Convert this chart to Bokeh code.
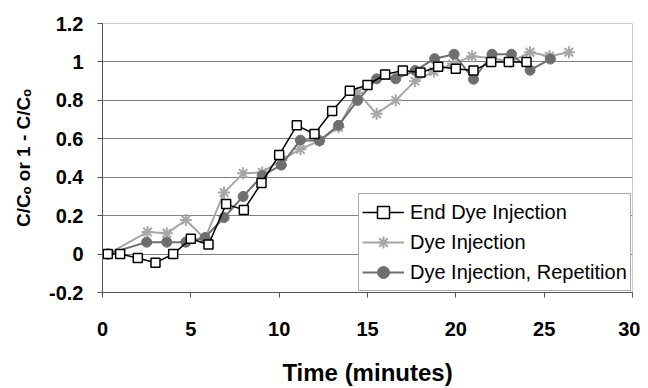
from bokeh.plotting import figure
from bokeh.models import Range1d, FixedTicker, CustomJSTickFormatter, Legend, LegendItem
from bokeh.embed import file_html
from bokeh.resources import INLINE

# ---- data ----
end_t = [0.3, 1, 2, 3, 4, 5, 6, 7, 8, 9, 10, 11, 12, 13, 14, 15, 16, 17, 18, 19, 20, 21, 22, 23, 24]
end_v = [0, 0, -0.02, -0.045, 0, 0.08, 0.05, 0.26, 0.23, 0.37, 0.515, 0.67, 0.625, 0.745, 0.85,
         0.88, 0.935, 0.955, 0.945, 0.975, 0.965, 0.955, 1.0, 1.0, 1.0]

dye_t = [0.3, 2.55, 3.64, 4.72, 5.8, 6.88, 7.96, 9.04, 10.12, 11.2, 12.28, 13.36, 14.44, 15.52,
         16.6, 17.68, 18.76, 19.84, 20.92, 22.0, 23.08, 24.2, 25.3, 26.4]
dye_v = [0, 0.115, 0.108, 0.177, 0.08, 0.32, 0.42, 0.425, 0.49, 0.545, 0.59, 0.66, 0.84, 0.73,
         0.80, 0.90, 0.95, 0.99, 1.03, 1.02, 1.0, 1.05, 1.03, 1.05]

rep_t = [0.3, 2.5, 3.64, 4.72, 5.8, 6.88, 7.96, 9.04, 10.12, 11.2, 12.28, 13.36, 14.44, 15.52,
         16.6, 17.7, 18.8, 19.9, 21.0, 22.05, 23.15, 24.2, 25.35]
rep_v = [0, 0.062, 0.062, 0.062, 0.086, 0.19, 0.30, 0.408, 0.463, 0.593, 0.59, 0.67, 0.80, 0.912,
         0.912, 0.955, 1.017, 1.04, 0.91, 1.04, 1.04, 0.957, 1.015]

x_ticks = [0, 5, 10, 15, 20, 25, 30]
y_ticks = [-0.2, 0, 0.2, 0.4, 0.6, 0.8, 1.0, 1.2]
series_names = ["End Dye Injection", "Dye Injection", "Dye Injection, Repetition"]

FONT = "Liberation Sans"

p = figure(width=640, height=388, output_backend="svg", toolbar_location=None,
           x_range=Range1d(0, 30), y_range=Range1d(-0.2, 1.2),
           min_border_left=102, min_border_right=8, min_border_top=23, min_border_bottom=93)
p.background_fill_color = "white"
p.border_fill_color = "white"
p.outline_line_color = "#cccccc"
p.outline_line_width = 1

# axes
p.xaxis.ticker = FixedTicker(ticks=x_ticks)
p.yaxis.ticker = FixedTicker(ticks=y_ticks)
p.yaxis.formatter = CustomJSTickFormatter(code="return tick.toFixed(1).replace(/\\.0$/, '');")
for ax in (p.xaxis, p.yaxis):
    ax.axis_line_color = "#555555"
    ax.axis_line_width = 1
    ax.major_tick_line_color = "#555555"
    ax.major_tick_out = 5
    ax.major_tick_in = 0
    ax.minor_tick_line_color = None
    ax.major_label_text_font = FONT
    ax.major_label_text_font_style = "bold"
    ax.major_label_text_font_size = "20px"
    ax.major_label_text_color = "black"
    ax.axis_label_text_font = FONT
    ax.axis_label_text_font_style = "bold"
    ax.axis_label_text_color = "black"
p.xaxis.major_label_standoff = 24
p.yaxis.major_label_standoff = 14
p.xaxis.axis_label = "Time (minutes)"
p.xaxis.axis_label_text_font_size = "24px"
p.xaxis.axis_label_standoff = 20
p.yaxis.axis_label = "C/Cₒ or 1 - C/Cₒ"
p.yaxis.axis_label_text_font_size = "19px"
p.yaxis.axis_label_standoff = 12

p.xgrid.visible = False
p.ygrid.grid_line_color = "#808080"
p.ygrid.grid_line_width = 1

# series
l2 = p.line(dye_t, dye_v, line_color="#a6a6a6", line_width=2)
s2 = p.scatter(dye_t, dye_v, marker="asterisk", size=12, line_color="#a6a6a6", line_width=2)

l3 = p.line(rep_t, rep_v, line_color="#6e6e6e", line_width=2)
s3 = p.scatter(rep_t, rep_v, marker="circle", size=10, fill_color="#6e6e6e", line_color="#6e6e6e")

l1 = p.line(end_t, end_v, line_color="black", line_width=1.5)
s1 = p.scatter(end_t, end_v, marker="square", size=9, fill_color="white", line_color="black", line_width=1.5)

legend = Legend(items=[
    LegendItem(label=series_names[0], renderers=[l1, s1]),
    LegendItem(label=series_names[1], renderers=[l2, s2]),
    LegendItem(label=series_names[2], renderers=[l3, s3]),
], location=(256, 1))
legend.label_text_font = FONT
legend.label_text_font_size = "20px"
legend.label_text_color = "black"
legend.glyph_width = 42
legend.glyph_height = 30
legend.label_height = 30
legend.label_standoff = 6
legend.spacing = 0
legend.padding = 3
legend.margin = 0
legend.border_line_color = "#555555"
legend.border_line_width = 1
legend.background_fill_color = "white"
legend.background_fill_alpha = 1
p.add_layout(legend, "center")

open("out.html", "w").write(file_html(p, INLINE))
